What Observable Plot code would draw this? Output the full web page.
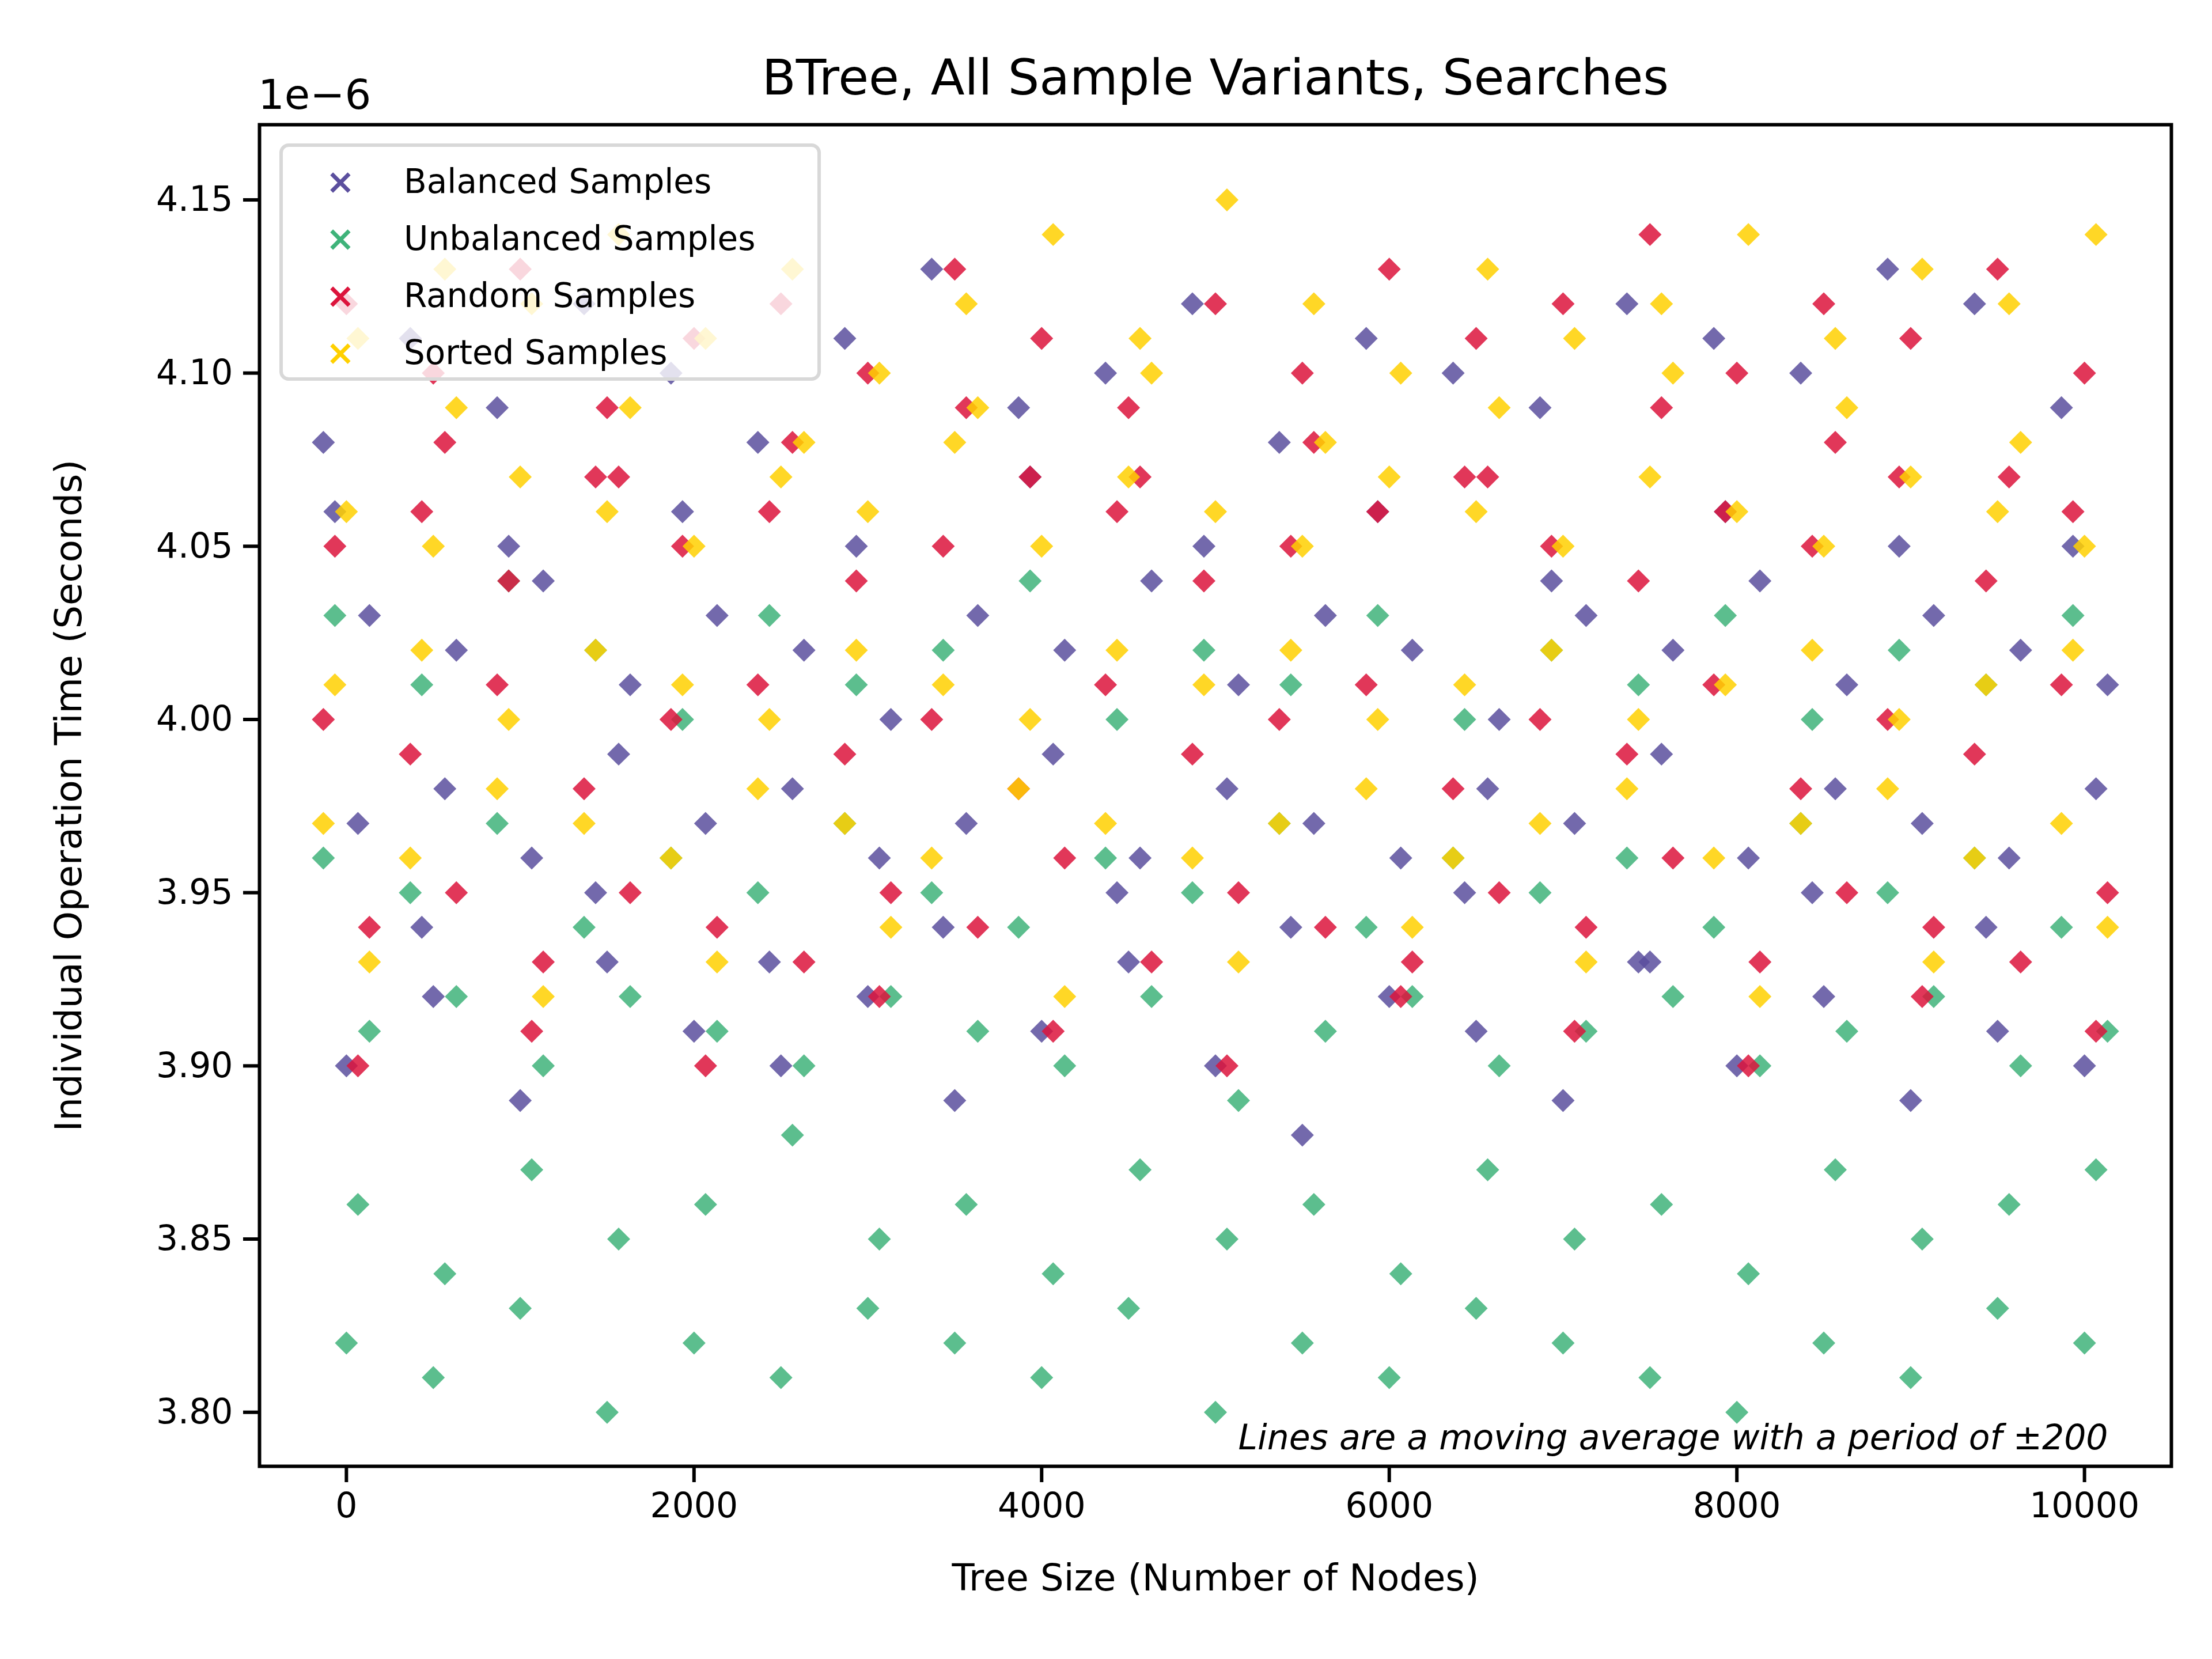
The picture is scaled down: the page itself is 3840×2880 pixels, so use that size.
<!DOCTYPE html>
<html>
<head>
<meta charset="utf-8">
<script src="https://cdn.jsdelivr.net/npm/d3@7"></script>
<script src="https://cdn.jsdelivr.net/npm/@observablehq/plot@0.6"></script>
<style>
  body { margin: 0; background: #fff; font-family: "DejaVu Sans", sans-serif; }
  #wrap { position: relative; width: 3840px; height: 2880px; }
  #title { position: absolute; left: 450px; width: 3320px; top: 84px; text-align: center; font-size: 86px; }
  #exp { position: absolute; left: 448px; top: 122px; font-size: 72px; }
  #legend { position: absolute; left: 485px; top: 249px; width: 940px; height: 412px;
    border: 6px solid #d8d8d8; border-radius: 16px; background: rgba(255,255,255,0.8); box-sizing: border-box; }
  .row { position: absolute; left: 0; font-size: 58px; height: 80px; line-height: 80px; }
  .row span.m { position: absolute; left: 70px; width: 60px; text-align: center; font-size: 60px; font-weight: bold; }
  .row span.t { position: absolute; left: 210px; white-space: nowrap; }
  #chart { position: absolute; left: 0; top: 0; }
</style>
</head>
<body>
<div id="wrap">
  <div id="chart"></div>
  <div id="title">BTree, All Sample Variants, Searches</div>
  <div id="exp">1e−6</div>
  <div id="legend"></div>
</div>
<script>
// tree sizes sampled across the x range
let xs = [0, 500, 1000, 1500, 2000, 2500, 3000, 3500, 4000, 4500, 5000, 5500, 6000, 6500, 7000, 7500, 8000, 8500, 9000, 9500, 10000];

// y values in units of 1e-6 s, several readings per x for each series
let balanced = [
  [4.08, 4.11, 4.09, 4.12, 4.10, 4.08, 4.11, 4.13, 4.09, 4.10, 4.12, 4.08, 4.11, 4.10, 4.09, 4.12, 4.11, 4.10, 4.13, 4.12, 4.09],
  [4.03, 4.02, 4.04, 4.01, 4.03, 4.02, 4.00, 4.03, 4.02, 4.04, 4.01, 4.03, 4.02, 4.00, 4.03, 4.02, 4.04, 4.01, 4.03, 4.02, 4.01],
  [3.97, 3.98, 3.96, 3.99, 3.97, 3.98, 3.96, 3.97, 3.99, 3.96, 3.98, 3.97, 3.96, 3.98, 3.97, 3.99, 3.96, 3.98, 3.97, 3.96, 3.98],
  [3.90, 3.92, 3.89, 3.93, 3.91, 3.90, 3.92, 3.89, 3.91, 3.93, 3.90, 3.88, 3.92, 3.91, 3.89, 3.93, 3.90, 3.92, 3.89, 3.91, 3.90],
  [4.06, 3.94, 4.05, 3.95, 4.06, 3.93, 4.05, 3.94, 4.07, 3.95, 4.05, 3.94, 4.06, 3.95, 4.04, 3.93, 4.06, 3.95, 4.05, 3.94, 4.05]
];
let unbalanced = [
  [4.03, 4.01, 4.04, 4.02, 4.00, 4.03, 4.01, 4.02, 4.04, 4.00, 4.02, 4.01, 4.03, 4.00, 4.02, 4.01, 4.03, 4.00, 4.02, 4.01, 4.03],
  [3.96, 3.95, 3.97, 3.94, 3.96, 3.95, 3.97, 3.95, 3.94, 3.96, 3.95, 3.97, 3.94, 3.96, 3.95, 3.96, 3.94, 3.97, 3.95, 3.96, 3.94],
  [3.91, 3.92, 3.90, 3.92, 3.91, 3.90, 3.92, 3.91, 3.90, 3.92, 3.89, 3.91, 3.92, 3.90, 3.91, 3.92, 3.90, 3.91, 3.92, 3.90, 3.91],
  [3.86, 3.84, 3.87, 3.85, 3.86, 3.88, 3.85, 3.86, 3.84, 3.87, 3.85, 3.86, 3.84, 3.87, 3.85, 3.86, 3.84, 3.87, 3.85, 3.86, 3.87],
  [3.82, 3.81, 3.83, 3.80, 3.82, 3.81, 3.83, 3.82, 3.81, 3.83, 3.80, 3.82, 3.81, 3.83, 3.82, 3.81, 3.80, 3.82, 3.81, 3.83, 3.82]
];
let random = [
  [4.12, 4.10, 4.13, 4.09, 4.11, 4.12, 4.10, 4.13, 4.11, 4.09, 4.12, 4.10, 4.13, 4.11, 4.12, 4.14, 4.10, 4.12, 4.11, 4.13, 4.10],
  [4.05, 4.06, 4.04, 4.07, 4.05, 4.06, 4.04, 4.05, 4.07, 4.06, 4.04, 4.05, 4.06, 4.07, 4.05, 4.04, 4.06, 4.05, 4.07, 4.04, 4.06],
  [4.00, 3.99, 4.01, 3.98, 4.00, 4.01, 3.99, 4.00, 3.98, 4.01, 3.99, 4.00, 4.01, 3.98, 4.00, 3.99, 4.01, 3.98, 4.00, 3.99, 4.01],
  [3.94, 3.95, 3.93, 3.95, 3.94, 3.93, 3.95, 3.94, 3.96, 3.93, 3.95, 3.94, 3.93, 3.95, 3.94, 3.96, 3.93, 3.95, 3.94, 3.93, 3.95],
  [3.90, 4.08, 3.91, 4.07, 3.90, 4.08, 3.92, 4.09, 3.91, 4.07, 3.90, 4.08, 3.92, 4.07, 3.91, 4.09, 3.90, 4.08, 3.92, 4.07, 3.91]
];
let sorted = [
  [4.11, 4.13, 4.12, 4.14, 4.11, 4.13, 4.10, 4.12, 4.14, 4.11, 4.15, 4.12, 4.10, 4.13, 4.11, 4.12, 4.14, 4.11, 4.13, 4.12, 4.14],
  [4.06, 4.05, 4.07, 4.06, 4.05, 4.07, 4.06, 4.08, 4.05, 4.07, 4.06, 4.05, 4.07, 4.06, 4.05, 4.07, 4.06, 4.05, 4.07, 4.06, 4.05],
  [4.01, 4.02, 4.00, 4.02, 4.01, 4.00, 4.02, 4.01, 4.00, 4.02, 4.01, 4.02, 4.00, 4.01, 4.02, 4.00, 4.01, 4.02, 4.00, 4.01, 4.02],
  [3.97, 3.96, 3.98, 3.97, 3.96, 3.98, 3.97, 3.96, 3.98, 3.97, 3.96, 3.97, 3.98, 3.96, 3.97, 3.98, 3.96, 3.97, 3.98, 3.96, 3.97],
  [3.93, 4.09, 3.92, 4.09, 3.93, 4.08, 3.94, 4.09, 3.92, 4.10, 3.93, 4.08, 3.94, 4.09, 3.93, 4.10, 3.92, 4.09, 3.93, 4.08, 3.94]
];

let names = ["Balanced Samples", "Unbalanced Samples", "Random Samples", "Sorted Samples"];
let colors = ["#5b4f9e", "#3fb37a", "#dc143c", "#ffd000"];
let seriesData = [balanced, unbalanced, random, sorted];
let xTicks = [0, 2000, 4000, 6000, 8000, 10000];
let yTicks = [3.80, 3.85, 3.90, 3.95, 4.00, 4.05, 4.10, 4.15];

let rows = [];
seriesData.forEach((layers, s) => {
  layers.forEach((ys, l) => {
    ys.forEach((y, i) => rows.push({ x: xs[i], y: y, s: names[s], shift: (l * 4 + s) % 5 - 2 }));
  });
});

let marks = [Plot.frame({ stroke: "black", strokeWidth: 6 })];
names.forEach((n, s) => {
  [-2, -1, 0, 1, 2].forEach(k => {
    marks.push(Plot.dot(rows.filter(d => d.s === n && d.shift === k), {
      x: "x", y: "y", symbol: "diamond2", r: 18, fill: colors[s], fillOpacity: 0.85,
      dx: k * 20
    }));
  });
});
marks.push(Plot.text(["Lines are a moving average with a period of ±200"], {
  frameAnchor: "bottom-right", dx: -110, dy: -30, fontSize: 60, fontStyle: "italic", fill: "black"
}));

let chart = Plot.plot({
  width: 3840,
  height: 2880,
  marginTop: 216,
  marginBottom: 335,
  marginLeft: 450,
  marginRight: 71,
  style: { fontFamily: "DejaVu Sans", fontSize: "60px", color: "black", background: "white" },
  x: { domain: [-500, 10500], ticks: xTicks, tickSize: 28, tickPadding: 18, label: "Tree Size (Number of Nodes)", labelAnchor: "center", labelOffset: 215, labelArrow: "none", tickFormat: d => String(d) },
  y: { domain: [3.7844, 4.1717], ticks: yTicks, tickSize: 28, tickPadding: 18, tickFormat: ".2f", label: "Individual Operation Time (Seconds)", labelAnchor: "center", labelOffset: 355, labelArrow: "none" },
  marks: marks
});
d3.select(chart).selectAll("[aria-label='x-axis tick'], [aria-label='y-axis tick']").attr("stroke-width", 6);
d3.select(chart).selectAll("[aria-label='x-axis label'], [aria-label='y-axis label']").style("font-size", "64px");
document.getElementById("chart").append(chart);

let legend = d3.select("#legend");
names.forEach((n, s) => {
  let r = legend.append("div").attr("class", "row").style("top", (20 + s * 99) + "px");
  r.append("span").attr("class", "m").style("color", colors[s]).text("×");
  r.append("span").attr("class", "t").text(n);
});
</script>
</body>
</html>
